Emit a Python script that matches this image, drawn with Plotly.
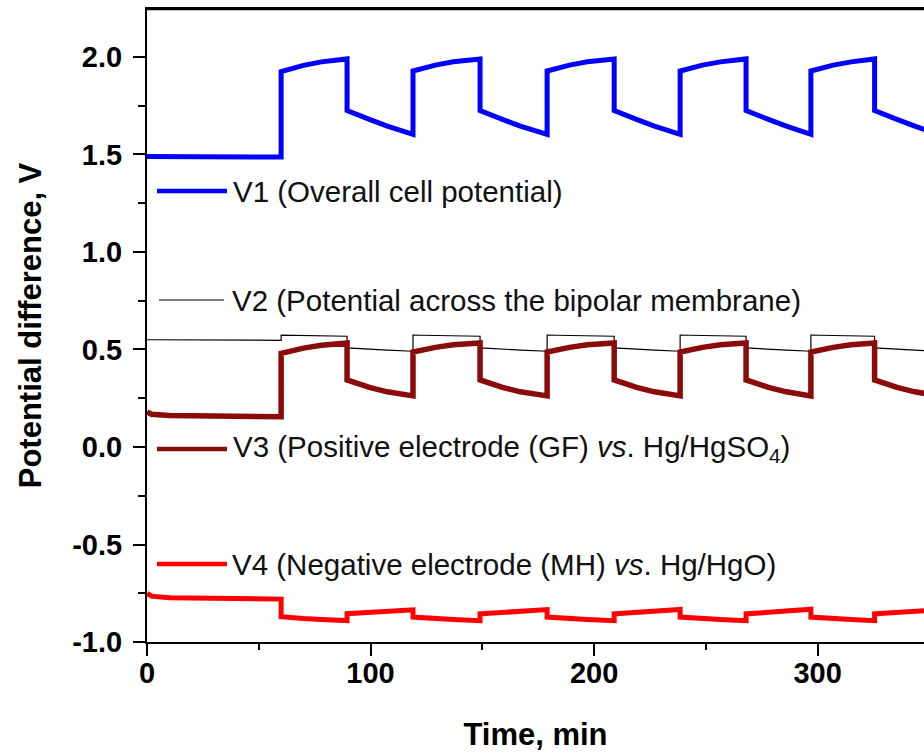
import plotly.graph_objects as go

# ---------------- data ----------------
time_min = [0, 2, 10, 30, 60,
            60, 64, 70, 78, 89.5,
            89.5, 93.5, 99.5, 107.5, 119,
            119, 123, 129, 137, 149,
            149, 153, 159, 167, 179,
            179, 183, 189, 197, 209,
            209, 213, 219, 227, 238.5,
            238.5, 242.5, 248.5, 256.5, 268,
            268, 272, 278, 286, 297,
            297, 301, 307, 315, 325.5,
            325.5, 329.5, 335.5, 343.5, 350]

v1_cell = [1.490, 1.490, 1.489, 1.488, 1.487,
           1.925, 1.940, 1.957, 1.975, 1.990,
           1.725, 1.705, 1.680, 1.645, 1.603,
           1.928, 1.942, 1.958, 1.975, 1.990,
           1.725, 1.705, 1.680, 1.645, 1.603,
           1.928, 1.942, 1.958, 1.975, 1.990,
           1.725, 1.705, 1.680, 1.645, 1.603,
           1.928, 1.942, 1.958, 1.975, 1.990,
           1.725, 1.705, 1.680, 1.645, 1.603,
           1.928, 1.942, 1.958, 1.975, 1.990,
           1.725, 1.705, 1.680, 1.645, 1.620]

v2_membrane = [0.550, 0.550, 0.549, 0.548, 0.547,
               0.574, 0.573, 0.572, 0.570, 0.568,
               0.508, 0.505, 0.502, 0.497, 0.491,
               0.574, 0.573, 0.572, 0.570, 0.568,
               0.508, 0.505, 0.502, 0.497, 0.491,
               0.574, 0.573, 0.572, 0.570, 0.568,
               0.508, 0.505, 0.502, 0.497, 0.491,
               0.574, 0.573, 0.572, 0.570, 0.568,
               0.508, 0.505, 0.502, 0.497, 0.491,
               0.574, 0.573, 0.572, 0.570, 0.568,
               0.508, 0.505, 0.502, 0.497, 0.493]

v3_positive = [0.180, 0.168, 0.162, 0.158, 0.155,
               0.480, 0.492, 0.507, 0.522, 0.533,
               0.344, 0.326, 0.306, 0.283, 0.262,
               0.487, 0.498, 0.511, 0.524, 0.533,
               0.344, 0.326, 0.306, 0.283, 0.262,
               0.487, 0.498, 0.511, 0.524, 0.533,
               0.344, 0.326, 0.306, 0.283, 0.262,
               0.487, 0.498, 0.511, 0.524, 0.533,
               0.344, 0.326, 0.306, 0.283, 0.262,
               0.487, 0.498, 0.511, 0.524, 0.533,
               0.344, 0.326, 0.306, 0.283, 0.270]

v4_negative = [-0.750, -0.765, -0.773, -0.777, -0.780,
               -0.870, -0.875, -0.880, -0.885, -0.890,
               -0.855, -0.852, -0.848, -0.843, -0.835,
               -0.872, -0.876, -0.880, -0.885, -0.891,
               -0.856, -0.853, -0.849, -0.843, -0.834,
               -0.872, -0.876, -0.880, -0.885, -0.891,
               -0.856, -0.853, -0.849, -0.843, -0.833,
               -0.872, -0.876, -0.880, -0.885, -0.891,
               -0.856, -0.853, -0.849, -0.843, -0.832,
               -0.872, -0.876, -0.880, -0.885, -0.891,
               -0.856, -0.853, -0.849, -0.843, -0.838]

x_range = [0, 347.6]
y_range = [-1.0, 2.246]
x_ticks = [0, 100, 200, 300]
y_ticks = [-1.0, -0.5, 0.0, 0.5, 1.0, 1.5, 2.0]
y_tick_text = ["-1.0", "-0.5", "0.0", "0.5", "1.0", "1.5", "2.0"]

legend_labels = ["V1 (Overall cell potential)",
                 "V2 (Potential across the bipolar membrane)",
                 "V3 (Positive electrode (GF) <i>vs</i>. Hg/HgSO<sub>4</sub>)",
                 "V4 (Negative electrode (MH) <i>vs</i>. Hg/HgO)"]

# ---------------- styling ----------------
W, H = 924, 753
ML, MR, MT, MB = 147, 0, 9, 111
PW, PH = W - ML - MR, H - MT - MB

def px(x):  # page pixel -> paper
    return (x - ML) / PW

def py(y):
    return (H - MB - y) / PH

colors = ["#0000FF", "#000000", "#8B0A0A", "#FF0000"]
widths = [5, 1.2, 5.5, 5]
sample_widths = [4.5, 1.2, 4.5, 4.5]
FONT = "Liberation Sans, Arial, sans-serif"

fig = go.Figure()
for vals, c, w, name in zip([v1_cell, v2_membrane, v3_positive, v4_negative],
                            colors, widths, ["V1", "V2", "V3", "V4"]):
    fig.add_trace(go.Scatter(x=time_min, y=vals, mode="lines", name=name,
                             line=dict(color=c, width=w), showlegend=False))

# top frame line (drawn along the top edge of the plot area)
fig.add_shape(type="line", xref="paper", yref="paper", x0=0, x1=1, y0=1, y1=1,
              layer="above", line=dict(color="black", width=2.5))

# in-plot legend: line samples + labels (page pixel positions)
samples = [  # (x0, x1, y, text_x)
    (157, 227, 191, 231),
    (159, 224, 300, 230),
    (157, 227, 449, 231),
    (157, 227, 564, 230),
]
for (x0, x1, yy, tx), c, w, lab in zip(samples, colors, sample_widths, legend_labels):
    fig.add_shape(type="line", xref="paper", yref="paper",
                  x0=px(x0), x1=px(x1), y0=py(yy), y1=py(yy),
                  line=dict(color=c, width=w))
    fig.add_annotation(xref="paper", yref="paper", x=px(tx), y=py(yy),
                       xanchor="left", yanchor="middle", showarrow=False,
                       text=lab, font=dict(family=FONT, size=29.5, color="#111111"))

axis_common = dict(showline=True, linecolor="black", linewidth=2,
                   ticks="outside", ticklen=12, tickwidth=2, tickcolor="black",
                   showgrid=False, zeroline=False,
                   tickfont=dict(family=FONT, size=29, color="black", weight="bold"))

fig.update_xaxes(range=x_range, tickvals=x_ticks, mirror=True, ticklabelstandoff=-8,
                 minor=dict(dtick=50, ticklen=6, tickwidth=2, tickcolor="black", ticks="outside"),
                 title=dict(text="Time, min", standoff=36,
                            font=dict(family=FONT, size=31, color="black", weight="bold")),
                 **axis_common)
fig.update_yaxes(range=y_range, tickvals=y_ticks, ticktext=y_tick_text, mirror=False,
                 ticklabelstandoff=5,
                 minor=dict(dtick=0.25, ticklen=7, tickwidth=2, tickcolor="black", ticks="outside"),
                 title=dict(text="Potential difference, V", standoff=21,
                            font=dict(family=FONT, size=31, color="black", weight="bold")),
                 **axis_common)

fig.update_layout(width=W, height=H, margin=dict(l=ML, r=MR, t=MT, b=MB, pad=0),
                  plot_bgcolor="white", paper_bgcolor="white",
                  font=dict(family=FONT, color="black"))

# remove the browser's default 8px body margin so the figure fills the window
fig.write_html("out.html", config={"displayModeBar": False},
               post_script="document.body.style.margin='0px';"
                           "document.body.style.overflow='hidden';")
